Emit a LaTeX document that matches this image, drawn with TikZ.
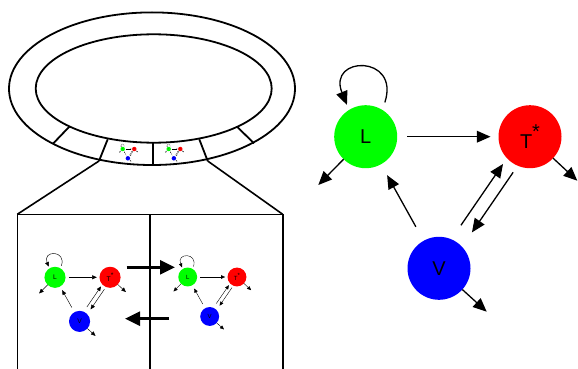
\documentclass[tikz,border=0pt]{standalone}
\usepackage{fontspec}
\setmainfont{Liberation Sans}
\usetikzlibrary{arrows.meta}
\definecolor{lgreen}{RGB}{0,255,0}
\definecolor{lred}{RGB}{255,0,0}
\definecolor{lblue}{RGB}{0,0,255}
\tikzset{
 state/.style={circle, minimum size=63pt, inner sep=0pt, outer sep=0pt, font=\fontsize{20}{24}\selectfont},
 conn/.style={-{Triangle[length=0pt 10.5, width=0pt 9]}},
 ringline/.style={line width=1.8pt},
 boxline/.style={line width=1.6pt},
 panelarrow/.style={line width=2.6pt, -{Triangle[length=15pt,width=14pt]}}
}
\newcommand\netdiag[4]{%
\begin{scope}[shift={(#2,-#3)}, scale=#4, transform shape]
\node[state, fill=lgreen] (#1L) at (0,0) {L};
\node[state, fill=lred] (#1T) at (164.3,0) {T\raisebox{10pt}{*}};
\node[state, fill=lblue] (#1V) at (73.3,-131.6) {V};
\coordinate (#1Lo) at (-47.4,-48.3);
\coordinate (#1To) at (211.6,-44);
\coordinate (#1Vo) at (121,-175);
\begin{scope}[conn, line width=#4*1.3pt]
\draw[shorten <=#4*10pt, shorten >=#4*8pt] (#1L) -- (#1T);
\draw[shorten <=#4*16pt, shorten >=#4*12.5pt] (#1V) -- (#1L);
\draw[shorten <=#4*17pt, shorten >=#4*7pt] (#1V.67) -- (#1T.223);
\draw[shorten <=#4*8pt, shorten >=#4*17.5pt] (#1T.247) -- (#1V.43);
\draw (#1L) -- (#1Lo);
\draw (#1T) -- (#1To);
\draw (#1V) -- (#1Vo);
\draw[shorten <=#4*8pt, shorten >=#4*5.5pt] (#1L.58) to[out=72,in=112,looseness=4.5] (#1L.122);
\end{scope}
\end{scope}}
\begin{document}
\begin{tikzpicture}[x=1pt,y=1pt]
\useasboundingbox (0,0) rectangle (578,-369);
% ring
\draw[ringline] (152,-88.7) ellipse [x radius=143pt, y radius=76.3pt];
\draw[ringline] (153.7,-88.5) ellipse [x radius=118pt, y radius=54.2pt];
\coordinate (r1o) at (52.7,-144);   \coordinate (r1i) at (69.3,-126.7);
\coordinate (r2o) at (99,-161);     \coordinate (r2i) at (107.7,-139.3);
\coordinate (r3o) at (153.3,-165);  \coordinate (r3i) at (153.3,-142.7);
\coordinate (r4o) at (207.7,-161);  \coordinate (r4i) at (199.3,-139.3);
\coordinate (r5o) at (254,-143.3);  \coordinate (r5i) at (237,-126.7);
\draw[ringline] (r1o) -- (r1i);
\draw[ringline] (r2o) -- (r2i);
\draw[ringline] (r3o) -- (r3i);
\draw[ringline] (r4o) -- (r4i);
\draw[ringline] (r5o) -- (r5i);
% zoom box
\coordinate (bl) at (17.3,-214.3);
\coordinate (br) at (282.7,-214.3);
\coordinate (bm) at (149.7,-214.3);
\draw[boxline] (r2o) -- (bl);
\draw[boxline] (r4o) -- (br);
\draw[boxline] (17.3,-380) -- (bl) -- (br) -- (282.7,-380);
\draw[boxline] (bm) -- (149.7,-380);
% panel arrows
\coordinate (pa1) at (126.7,-267.3); \coordinate (pa2) at (175,-267.3);
\coordinate (pb1) at (169,-318.7);   \coordinate (pb2) at (125,-318.7);
\draw[panelarrow] (pa1) -- (pa2);
\draw[panelarrow] (pb1) -- (pb2);
% networks
\netdiag{a}{365.7}{136.7}{1}
\netdiag{b}{55}{277.3}{0.335}
\netdiag{c}{187.7}{277}{0.30}
\netdiag{d}{122.7}{149}{0.0706}
\netdiag{e}{168.7}{149}{0.0706}
\end{tikzpicture}
\end{document}
